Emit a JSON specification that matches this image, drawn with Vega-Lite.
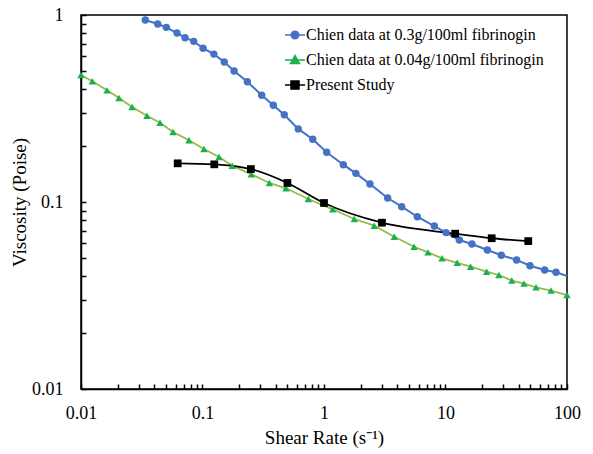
{
  "$schema": "https://vega.github.io/schema/vega-lite/v6.json",
  "autosize": {"type": "none"},
  "padding": {"left": 81, "top": 15, "right": 26, "bottom": 65},
  "width": 486,
  "height": 374,
  "background": "white",
  "config": {
    "view": {"stroke": "black", "strokeWidth": 1.5},
    "font": "Liberation Serif",
    "axis": {
      "grid": false,
      "domainColor": "black",
      "domainWidth": 1.5,
      "tickColor": "black",
      "tickWidth": 1.5,
      "tickSize": -5,
      "labelFlush": false,
      "labelFont": "Liberation Serif",
      "labelFontSize": 18,
      "labelColor": "black",
      "labelOverlap": false,
      "titleFont": "Liberation Serif",
      "titleFontSize": 19,
      "titleFontWeight": "normal",
      "titleColor": "black"
    }
  },
  "data": {
    "values": [
      {"s": "Chien data at 0.3g/100ml fibrinogin", "x": 0.0338, "y": 0.94},
      {"s": "Chien data at 0.3g/100ml fibrinogin", "x": 0.0428, "y": 0.895},
      {"s": "Chien data at 0.3g/100ml fibrinogin", "x": 0.0504, "y": 0.859},
      {"s": "Chien data at 0.3g/100ml fibrinogin", "x": 0.0617, "y": 0.801},
      {"s": "Chien data at 0.3g/100ml fibrinogin", "x": 0.0718, "y": 0.756},
      {"s": "Chien data at 0.3g/100ml fibrinogin", "x": 0.0847, "y": 0.723},
      {"s": "Chien data at 0.3g/100ml fibrinogin", "x": 0.101, "y": 0.664},
      {"s": "Chien data at 0.3g/100ml fibrinogin", "x": 0.124, "y": 0.618},
      {"s": "Chien data at 0.3g/100ml fibrinogin", "x": 0.151, "y": 0.561},
      {"s": "Chien data at 0.3g/100ml fibrinogin", "x": 0.182, "y": 0.502},
      {"s": "Chien data at 0.3g/100ml fibrinogin", "x": 0.234, "y": 0.44},
      {"s": "Chien data at 0.3g/100ml fibrinogin", "x": 0.307, "y": 0.372},
      {"s": "Chien data at 0.3g/100ml fibrinogin", "x": 0.383, "y": 0.329},
      {"s": "Chien data at 0.3g/100ml fibrinogin", "x": 0.471, "y": 0.293},
      {"s": "Chien data at 0.3g/100ml fibrinogin", "x": 0.614, "y": 0.246},
      {"s": "Chien data at 0.3g/100ml fibrinogin", "x": 0.807, "y": 0.2165},
      {"s": "Chien data at 0.3g/100ml fibrinogin", "x": 1.052, "y": 0.1845},
      {"s": "Chien data at 0.3g/100ml fibrinogin", "x": 1.442, "y": 0.1583},
      {"s": "Chien data at 0.3g/100ml fibrinogin", "x": 1.83, "y": 0.1423},
      {"s": "Chien data at 0.3g/100ml fibrinogin", "x": 2.39, "y": 0.1248},
      {"s": "Chien data at 0.3g/100ml fibrinogin", "x": 3.34, "y": 0.105},
      {"s": "Chien data at 0.3g/100ml fibrinogin", "x": 4.36, "y": 0.0944},
      {"s": "Chien data at 0.3g/100ml fibrinogin", "x": 5.86, "y": 0.0834},
      {"s": "Chien data at 0.3g/100ml fibrinogin", "x": 8.09, "y": 0.0744},
      {"s": "Chien data at 0.3g/100ml fibrinogin", "x": 10.1, "y": 0.0686},
      {"s": "Chien data at 0.3g/100ml fibrinogin", "x": 13.0, "y": 0.0626},
      {"s": "Chien data at 0.3g/100ml fibrinogin", "x": 16.5, "y": 0.0596},
      {"s": "Chien data at 0.3g/100ml fibrinogin", "x": 22.1, "y": 0.0554},
      {"s": "Chien data at 0.3g/100ml fibrinogin", "x": 28.8, "y": 0.0519},
      {"s": "Chien data at 0.3g/100ml fibrinogin", "x": 38.5, "y": 0.049},
      {"s": "Chien data at 0.3g/100ml fibrinogin", "x": 49.6, "y": 0.0456},
      {"s": "Chien data at 0.3g/100ml fibrinogin", "x": 65.5, "y": 0.0433},
      {"s": "Chien data at 0.3g/100ml fibrinogin", "x": 81.2, "y": 0.0421},
      {"s": "Chien data at 0.3g/100ml fibrinogin", "x": 100, "y": 0.0402, "end": true},
      {"s": "Chien data at 0.04g/100ml fibrinogin", "x": 0.01, "y": 0.478},
      {"s": "Chien data at 0.04g/100ml fibrinogin", "x": 0.01239, "y": 0.442},
      {"s": "Chien data at 0.04g/100ml fibrinogin", "x": 0.01637, "y": 0.396},
      {"s": "Chien data at 0.04g/100ml fibrinogin", "x": 0.02055, "y": 0.36},
      {"s": "Chien data at 0.04g/100ml fibrinogin", "x": 0.0263, "y": 0.322},
      {"s": "Chien data at 0.04g/100ml fibrinogin", "x": 0.0349, "y": 0.289},
      {"s": "Chien data at 0.04g/100ml fibrinogin", "x": 0.0447, "y": 0.2655},
      {"s": "Chien data at 0.04g/100ml fibrinogin", "x": 0.0572, "y": 0.2367},
      {"s": "Chien data at 0.04g/100ml fibrinogin", "x": 0.0774, "y": 0.2138},
      {"s": "Chien data at 0.04g/100ml fibrinogin", "x": 0.1029, "y": 0.192},
      {"s": "Chien data at 0.04g/100ml fibrinogin", "x": 0.1367, "y": 0.174},
      {"s": "Chien data at 0.04g/100ml fibrinogin", "x": 0.1758, "y": 0.1563},
      {"s": "Chien data at 0.04g/100ml fibrinogin", "x": 0.2522, "y": 0.1406},
      {"s": "Chien data at 0.04g/100ml fibrinogin", "x": 0.355, "y": 0.1264},
      {"s": "Chien data at 0.04g/100ml fibrinogin", "x": 0.487, "y": 0.1184},
      {"s": "Chien data at 0.04g/100ml fibrinogin", "x": 0.743, "y": 0.1038},
      {"s": "Chien data at 0.04g/100ml fibrinogin", "x": 1.18, "y": 0.0914},
      {"s": "Chien data at 0.04g/100ml fibrinogin", "x": 1.776, "y": 0.0811},
      {"s": "Chien data at 0.04g/100ml fibrinogin", "x": 2.59, "y": 0.0747},
      {"s": "Chien data at 0.04g/100ml fibrinogin", "x": 3.79, "y": 0.0652},
      {"s": "Chien data at 0.04g/100ml fibrinogin", "x": 5.51, "y": 0.0576},
      {"s": "Chien data at 0.04g/100ml fibrinogin", "x": 7.18, "y": 0.0538},
      {"s": "Chien data at 0.04g/100ml fibrinogin", "x": 9.36, "y": 0.05},
      {"s": "Chien data at 0.04g/100ml fibrinogin", "x": 12.5, "y": 0.0473},
      {"s": "Chien data at 0.04g/100ml fibrinogin", "x": 16.1, "y": 0.0451},
      {"s": "Chien data at 0.04g/100ml fibrinogin", "x": 21.8, "y": 0.0424},
      {"s": "Chien data at 0.04g/100ml fibrinogin", "x": 27.5, "y": 0.0407},
      {"s": "Chien data at 0.04g/100ml fibrinogin", "x": 35.1, "y": 0.038},
      {"s": "Chien data at 0.04g/100ml fibrinogin", "x": 44.3, "y": 0.0366},
      {"s": "Chien data at 0.04g/100ml fibrinogin", "x": 55.6, "y": 0.035},
      {"s": "Chien data at 0.04g/100ml fibrinogin", "x": 73.8, "y": 0.0336},
      {"s": "Chien data at 0.04g/100ml fibrinogin", "x": 100, "y": 0.0318},
      {"s": "Present Study", "x": 0.0625, "y": 0.161},
      {"s": "Present Study", "x": 0.125, "y": 0.159},
      {"s": "Present Study", "x": 0.25, "y": 0.15},
      {"s": "Present Study", "x": 0.5, "y": 0.1264},
      {"s": "Present Study", "x": 1, "y": 0.0988},
      {"s": "Present Study", "x": 3, "y": 0.0775},
      {"s": "Present Study", "x": 12, "y": 0.0677},
      {"s": "Present Study", "x": 24, "y": 0.064},
      {"s": "Present Study", "x": 48, "y": 0.0618}
    ]
  },
  "encoding": {
    "x": {
      "field": "x", "type": "quantitative",
      "scale": {"type": "log", "domain": [0.01, 100], "nice": false},
      "axis": {
        "title": "Shear Rate (s⁻¹)",
        "values": [0.01,0.02,0.03,0.04,0.05,0.06,0.07,0.08,0.09,0.1,0.2,0.3,0.4,0.5,0.6,0.7,0.8,0.9,1,2,3,4,5,6,7,8,9,10,20,30,40,50,60,70,80,90,100],
        "format": "~g",
        "labelExpr": "indexof(['0.01','0.1','1','10','100'], datum.label) >= 0 ? datum.label : ''",
        "labelPadding": 20,
        "titlePadding": 6
      }
    },
    "y": {
      "field": "y", "type": "quantitative",
      "scale": {"type": "log", "domain": [0.01, 1], "nice": false},
      "axis": {
        "title": "Viscosity (Poise)",
        "values": [0.01,0.02,0.03,0.04,0.05,0.06,0.07,0.08,0.09,0.1,0.2,0.3,0.4,0.5,0.6,0.7,0.8,0.9,1],
        "format": "~g",
        "labelExpr": "indexof(['0.01','0.1','1'], datum.label) >= 0 ? datum.label : ''",
        "labelPadding": 23,
        "titlePadding": 2
      }
    },
    "color": {
      "field": "s", "type": "nominal",
      "scale": {
        "domain": ["Chien data at 0.3g/100ml fibrinogin", "Chien data at 0.04g/100ml fibrinogin", "Present Study"],
        "range": ["#4472C4", "#1DB04A", "black"]
      },
      "legend": {
        "title": null,
        "orient": "none",
        "legendX": 203,
        "legendY": 9,
        "padding": 0,
        "symbolSize": 400,
        "symbolStrokeWidth": 1.5,
        "labelFont": "Liberation Serif",
        "labelFontSize": 16,
        "labelColor": "black",
        "labelOffset": 0,
        "rowPadding": 6,
        "labelLimit": 400,
        "encode": {
          "symbols": {
            "update": {
              "shape": {"signal": "datum.value == 'Present Study' ? 'M-1,0H1M-0.4,-0.4H0.4V0.4H-0.4Z' : datum.value == 'Chien data at 0.04g/100ml fibrinogin' ? 'M-1,0H1M0,-0.45L0.45,0.35L-0.45,0.35Z' : 'M-1,0H1M0.38,0A0.38,0.38,0,1,1,-0.38,0A0.38,0.38,0,1,1,0.38,0Z'"},
              "stroke": {"signal": "datum.value == 'Present Study' ? 'black' : datum.value == 'Chien data at 0.04g/100ml fibrinogin' ? '#8DBF48' : '#4472C4'"},
              "fill": {"signal": "datum.value == 'Present Study' ? 'black' : datum.value == 'Chien data at 0.04g/100ml fibrinogin' ? '#1DB04A' : '#4472C4'"},
              "strokeWidth": {"value": 1.5},
              "opacity": {"value": 1}
            }
          }
        }
      }
    }
  },
  "layer": [
    {
      "transform": [{"filter": "datum.s == 'Chien data at 0.04g/100ml fibrinogin'"}],
      "mark": {"type": "line", "stroke": "#8DBF48", "strokeWidth": 1.8}
    },
    {
      "transform": [{"filter": "datum.s == 'Chien data at 0.3g/100ml fibrinogin'"}],
      "mark": {"type": "line", "strokeWidth": 2}
    },
    {
      "transform": [{"filter": "datum.s == 'Present Study'"}],
      "mark": {"type": "line", "strokeWidth": 1.8, "interpolate": "monotone"}
    },
    {
      "transform": [{"filter": "datum.s == 'Chien data at 0.3g/100ml fibrinogin' && !datum.end"}],
      "mark": {"type": "point", "shape": "circle", "filled": true, "opacity": 1, "size": 55}
    },
    {
      "transform": [{"filter": "datum.s == 'Chien data at 0.04g/100ml fibrinogin'"}],
      "mark": {"type": "point", "shape": "triangle-up", "filled": true, "opacity": 1, "size": 55}
    },
    {
      "transform": [{"filter": "datum.s == 'Present Study'"}],
      "mark": {"type": "point", "shape": "square", "filled": true, "opacity": 1, "size": 60}
    }
  ]
}
